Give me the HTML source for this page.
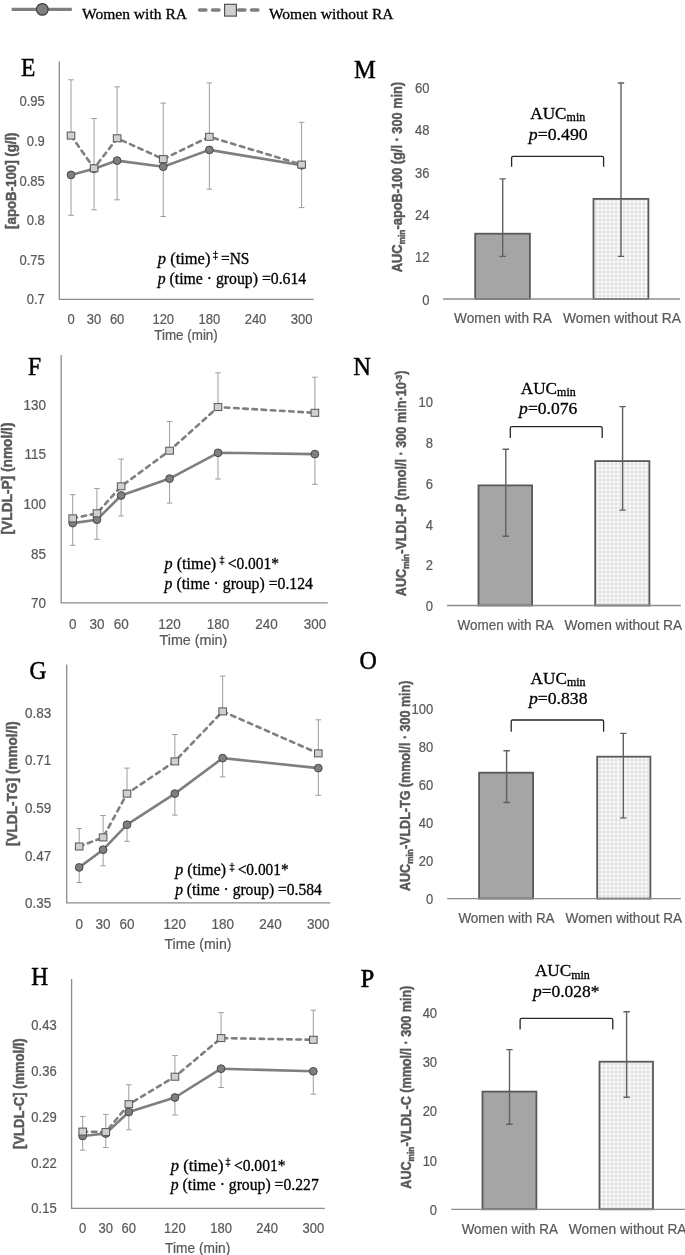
<!DOCTYPE html>
<html><head><meta charset="utf-8"><title>Figure</title>
<style>html,body{margin:0;padding:0;background:#fff;}svg{display:block;filter:blur(0.3px);}</style></head>
<body>
<svg width="685" height="1255" viewBox="0 0 685 1255">
<defs>
<pattern id="dots" width="4" height="4" patternUnits="userSpaceOnUse">
<rect width="4" height="4" fill="#e2e2e2"/>
<rect x="0.6" y="0.6" width="2.8" height="2.8" rx="0.8" fill="#fcfcfc"/>
</pattern>
</defs>
<rect width="685" height="1255" fill="#fff"/>
<line x1="11.7" y1="9.3" x2="71.8" y2="9.3" stroke="#7f7f7f" stroke-width="3.3"/>
<circle cx="42.3" cy="9.4" r="5.8" fill="#7f7f7f" stroke="#404040" stroke-width="1.2"/>
<text x="82" y="18.7" font-family='"Liberation Serif", serif' font-size="15.5" fill="#000" stroke="#000" stroke-width="0.3" textLength="105" lengthAdjust="spacingAndGlyphs">Women with RA</text>
<line x1="199.5" y1="10" x2="259" y2="10" stroke="#7f7f7f" stroke-width="3.3" stroke-dasharray="6.5 6.5" stroke-linecap="round"/>
<rect x="224.6" y="4.3" width="11.8" height="11.8" fill="#d0d0d0" stroke="#555555" stroke-width="1.2"/>
<text x="268.9" y="18.7" font-family='"Liberation Serif", serif' font-size="15.5" fill="#000" stroke="#000" stroke-width="0.3" textLength="124.7" lengthAdjust="spacingAndGlyphs">Women without RA</text>
<text transform="translate(21,76.3) scale(1,1.11)" font-family='"Liberation Serif", serif' font-size="23.5" fill="#000" stroke="#000" stroke-width="0.45">E</text>
<path d="M59.3 61.4V299.3H313.7" fill="none" stroke="#8c8c8c" stroke-width="1.3"/>
<text transform="translate(44.8,304.47) scale(1,1.11)" text-anchor="end" font-family='"Liberation Sans", sans-serif' font-size="13" fill="#595959" stroke="#595959" stroke-width="0.2">0.7</text>
<text transform="translate(44.8,264.87) scale(1,1.11)" text-anchor="end" font-family='"Liberation Sans", sans-serif' font-size="13" fill="#595959" stroke="#595959" stroke-width="0.2">0.75</text>
<text transform="translate(44.8,225.27) scale(1,1.11)" text-anchor="end" font-family='"Liberation Sans", sans-serif' font-size="13" fill="#595959" stroke="#595959" stroke-width="0.2">0.8</text>
<text transform="translate(44.8,185.67) scale(1,1.11)" text-anchor="end" font-family='"Liberation Sans", sans-serif' font-size="13" fill="#595959" stroke="#595959" stroke-width="0.2">0.85</text>
<text transform="translate(44.8,146.07) scale(1,1.11)" text-anchor="end" font-family='"Liberation Sans", sans-serif' font-size="13" fill="#595959" stroke="#595959" stroke-width="0.2">0.9</text>
<text transform="translate(44.8,106.47) scale(1,1.11)" text-anchor="end" font-family='"Liberation Sans", sans-serif' font-size="13" fill="#595959" stroke="#595959" stroke-width="0.2">0.95</text>
<text transform="translate(71,323.97) scale(1,1.11)" text-anchor="middle" font-family='"Liberation Sans", sans-serif' font-size="13" fill="#595959" stroke="#595959" stroke-width="0.2">0</text>
<text transform="translate(94.06,323.97) scale(1,1.11)" text-anchor="middle" font-family='"Liberation Sans", sans-serif' font-size="13" fill="#595959" stroke="#595959" stroke-width="0.2">30</text>
<text transform="translate(117.12,323.97) scale(1,1.11)" text-anchor="middle" font-family='"Liberation Sans", sans-serif' font-size="13" fill="#595959" stroke="#595959" stroke-width="0.2">60</text>
<text transform="translate(163.24,323.97) scale(1,1.11)" text-anchor="middle" font-family='"Liberation Sans", sans-serif' font-size="13" fill="#595959" stroke="#595959" stroke-width="0.2">120</text>
<text transform="translate(209.37,323.97) scale(1,1.11)" text-anchor="middle" font-family='"Liberation Sans", sans-serif' font-size="13" fill="#595959" stroke="#595959" stroke-width="0.2">180</text>
<text transform="translate(255.49,323.97) scale(1,1.11)" text-anchor="middle" font-family='"Liberation Sans", sans-serif' font-size="13" fill="#595959" stroke="#595959" stroke-width="0.2">240</text>
<text transform="translate(301.61,323.97) scale(1,1.11)" text-anchor="middle" font-family='"Liberation Sans", sans-serif' font-size="13" fill="#595959" stroke="#595959" stroke-width="0.2">300</text>
<text transform="translate(186,339.89) scale(1,1.11)" text-anchor="middle" font-family='"Liberation Sans", sans-serif' font-size="13.3" fill="#595959" stroke="#595959" stroke-width="0.2" textLength="63.6" lengthAdjust="spacingAndGlyphs">Time (min)</text>
<text transform="translate(15.8,180.7) rotate(-90) scale(1,1.1)" text-anchor="middle" font-family='"Liberation Sans", sans-serif' font-weight="bold" font-size="13.6" fill="#595959" stroke="#595959" stroke-width="0.45" textLength="96.4" lengthAdjust="spacingAndGlyphs">[apoB-100] (g/l)</text>
<path d="M71 135.6V79.8M68.2 79.8H73.8M71 174.9V215.3M68.2 215.3H73.8" stroke="#9d9d9d" stroke-width="1" fill="none"/>
<path d="M94.06 168.3V118.5M91.26 118.5H96.86M94.06 168.7V209.8M91.26 209.8H96.86" stroke="#9d9d9d" stroke-width="1" fill="none"/>
<path d="M117.12 138.3V86.8M114.32 86.8H119.92M117.12 160.6V199.8M114.32 199.8H119.92" stroke="#9d9d9d" stroke-width="1" fill="none"/>
<path d="M163.24 159.1V103.1M160.44 103.1H166.04M163.24 166.7V216.5M160.44 216.5H166.04" stroke="#9d9d9d" stroke-width="1" fill="none"/>
<path d="M209.37 136.8V82.9M206.57 82.9H212.17M209.37 149.9V189.2M206.57 189.2H212.17" stroke="#9d9d9d" stroke-width="1" fill="none"/>
<path d="M301.61 164.6V122.3M298.81 122.3H304.41M301.61 165.3V207.6M298.81 207.6H304.41" stroke="#9d9d9d" stroke-width="1" fill="none"/>
<polyline points="71,174.9 94.06,168.7 117.12,160.6 163.24,166.7 209.37,149.9 301.61,165.3" fill="none" stroke="#7f7f7f" stroke-width="2.6" stroke-linejoin="round"/>
<polyline points="71,135.6 94.06,168.3 117.12,138.3 163.24,159.1 209.37,136.8 301.61,164.6" fill="none" stroke="#7f7f7f" stroke-width="2.6" stroke-dasharray="4.5 4.7" stroke-linecap="round" stroke-linejoin="round"/>
<circle cx="71" cy="174.9" r="3.9" fill="#7f7f7f" stroke="#404040" stroke-width="0.9"/>
<circle cx="94.06" cy="168.7" r="3.9" fill="#7f7f7f" stroke="#404040" stroke-width="0.9"/>
<circle cx="117.12" cy="160.6" r="3.9" fill="#7f7f7f" stroke="#404040" stroke-width="0.9"/>
<circle cx="163.24" cy="166.7" r="3.9" fill="#7f7f7f" stroke="#404040" stroke-width="0.9"/>
<circle cx="209.37" cy="149.9" r="3.9" fill="#7f7f7f" stroke="#404040" stroke-width="0.9"/>
<circle cx="301.61" cy="165.3" r="3.9" fill="#7f7f7f" stroke="#404040" stroke-width="0.9"/>
<rect x="67.2" y="132.1" width="7.6" height="7" fill="#d0d0d0" stroke="#555555" stroke-width="1"/>
<rect x="90.26" y="164.8" width="7.6" height="7" fill="#d0d0d0" stroke="#555555" stroke-width="1"/>
<rect x="113.32" y="134.8" width="7.6" height="7" fill="#d0d0d0" stroke="#555555" stroke-width="1"/>
<rect x="159.44" y="155.6" width="7.6" height="7" fill="#d0d0d0" stroke="#555555" stroke-width="1"/>
<rect x="205.57" y="133.3" width="7.6" height="7" fill="#d0d0d0" stroke="#555555" stroke-width="1"/>
<rect x="297.81" y="161.1" width="7.6" height="7" fill="#d0d0d0" stroke="#555555" stroke-width="1"/>
<text x="157.8" y="263.8" font-family='"Liberation Serif", serif' fill="#000" stroke="#000" stroke-width="0.3" font-size="16" textLength="52.6" lengthAdjust="spacingAndGlyphs"><tspan font-style="italic">p</tspan> (time)</text>
<text x="213" y="258.3" font-family='"Liberation Serif", serif' fill="#000" stroke="#000" stroke-width="0.3" font-size="10">‡</text>
<text x="221" y="263.8" font-family='"Liberation Serif", serif' fill="#000" stroke="#000" stroke-width="0.3" font-size="16" textLength="28.4" lengthAdjust="spacingAndGlyphs">=NS</text>
<text x="157.8" y="283.8" font-family='"Liberation Serif", serif' fill="#000" stroke="#000" stroke-width="0.3" font-size="16" textLength="148.4" lengthAdjust="spacingAndGlyphs"><tspan font-style="italic">p</tspan> (time · group) =0.614</text>
<text transform="translate(28,374.5) scale(1,1.11)" font-family='"Liberation Serif", serif' font-size="23.5" fill="#000" stroke="#000" stroke-width="0.45">F</text>
<path d="M61.2 354.9V602.9H327.8" fill="none" stroke="#8c8c8c" stroke-width="1.3"/>
<text transform="translate(45.9,608.36) scale(1,1.11)" text-anchor="end" font-family='"Liberation Sans", sans-serif' font-size="13.5" fill="#595959" stroke="#595959" stroke-width="0.2">70</text>
<text transform="translate(45.9,558.66) scale(1,1.11)" text-anchor="end" font-family='"Liberation Sans", sans-serif' font-size="13.5" fill="#595959" stroke="#595959" stroke-width="0.2">85</text>
<text transform="translate(45.9,508.96) scale(1,1.11)" text-anchor="end" font-family='"Liberation Sans", sans-serif' font-size="13.5" fill="#595959" stroke="#595959" stroke-width="0.2">100</text>
<text transform="translate(45.9,459.26) scale(1,1.11)" text-anchor="end" font-family='"Liberation Sans", sans-serif' font-size="13.5" fill="#595959" stroke="#595959" stroke-width="0.2">115</text>
<text transform="translate(45.9,409.56) scale(1,1.11)" text-anchor="end" font-family='"Liberation Sans", sans-serif' font-size="13.5" fill="#595959" stroke="#595959" stroke-width="0.2">130</text>
<text transform="translate(72.7,628.86) scale(1,1.11)" text-anchor="middle" font-family='"Liberation Sans", sans-serif' font-size="13.5" fill="#595959" stroke="#595959" stroke-width="0.2">0</text>
<text transform="translate(96.92,628.86) scale(1,1.11)" text-anchor="middle" font-family='"Liberation Sans", sans-serif' font-size="13.5" fill="#595959" stroke="#595959" stroke-width="0.2">30</text>
<text transform="translate(121.14,628.86) scale(1,1.11)" text-anchor="middle" font-family='"Liberation Sans", sans-serif' font-size="13.5" fill="#595959" stroke="#595959" stroke-width="0.2">60</text>
<text transform="translate(169.58,628.86) scale(1,1.11)" text-anchor="middle" font-family='"Liberation Sans", sans-serif' font-size="13.5" fill="#595959" stroke="#595959" stroke-width="0.2">120</text>
<text transform="translate(218.01,628.86) scale(1,1.11)" text-anchor="middle" font-family='"Liberation Sans", sans-serif' font-size="13.5" fill="#595959" stroke="#595959" stroke-width="0.2">180</text>
<text transform="translate(266.45,628.86) scale(1,1.11)" text-anchor="middle" font-family='"Liberation Sans", sans-serif' font-size="13.5" fill="#595959" stroke="#595959" stroke-width="0.2">240</text>
<text transform="translate(314.89,628.86) scale(1,1.11)" text-anchor="middle" font-family='"Liberation Sans", sans-serif' font-size="13.5" fill="#595959" stroke="#595959" stroke-width="0.2">300</text>
<text transform="translate(193.4,644.89) scale(1,1.11)" text-anchor="middle" font-family='"Liberation Sans", sans-serif' font-size="13.3" fill="#595959" stroke="#595959" stroke-width="0.2" textLength="67.8" lengthAdjust="spacingAndGlyphs">Time (min)</text>
<text transform="translate(11.5,478.5) rotate(-90) scale(1,1.1)" text-anchor="middle" font-family='"Liberation Sans", sans-serif' font-weight="bold" font-size="13.6" fill="#595959" stroke="#595959" stroke-width="0.45" textLength="111.9" lengthAdjust="spacingAndGlyphs">[VLDL-P] (nmol/l)</text>
<path d="M72.7 518.4V494.7M69.9 494.7H75.5M72.7 523.1V545.3M69.9 545.3H75.5" stroke="#9d9d9d" stroke-width="1" fill="none"/>
<path d="M96.92 513.3V488.6M94.12 488.6H99.72M96.92 519.7V539.3M94.12 539.3H99.72" stroke="#9d9d9d" stroke-width="1" fill="none"/>
<path d="M121.14 486.3V459.1M118.34 459.1H123.94M121.14 495.5V516M118.34 516H123.94" stroke="#9d9d9d" stroke-width="1" fill="none"/>
<path d="M169.58 450.7V421.5M166.78 421.5H172.38M169.58 478.6V503.1M166.78 503.1H172.38" stroke="#9d9d9d" stroke-width="1" fill="none"/>
<path d="M218.01 407.1V372.8M215.21 372.8H220.81M218.01 452.8V479M215.21 479H220.81" stroke="#9d9d9d" stroke-width="1" fill="none"/>
<path d="M314.89 412.8V377.2M312.09 377.2H317.69M314.89 454.1V484.3M312.09 484.3H317.69" stroke="#9d9d9d" stroke-width="1" fill="none"/>
<polyline points="72.7,523.1 96.92,519.7 121.14,495.5 169.58,478.6 218.01,452.8 314.89,454.1" fill="none" stroke="#7f7f7f" stroke-width="2.6" stroke-linejoin="round"/>
<polyline points="72.7,518.4 96.92,513.3 121.14,486.3 169.58,450.7 218.01,407.1 314.89,412.8" fill="none" stroke="#7f7f7f" stroke-width="2.6" stroke-dasharray="4.5 4.7" stroke-linecap="round" stroke-linejoin="round"/>
<circle cx="72.7" cy="523.1" r="3.9" fill="#7f7f7f" stroke="#404040" stroke-width="0.9"/>
<circle cx="96.92" cy="519.7" r="3.9" fill="#7f7f7f" stroke="#404040" stroke-width="0.9"/>
<circle cx="121.14" cy="495.5" r="3.9" fill="#7f7f7f" stroke="#404040" stroke-width="0.9"/>
<circle cx="169.58" cy="478.6" r="3.9" fill="#7f7f7f" stroke="#404040" stroke-width="0.9"/>
<circle cx="218.01" cy="452.8" r="3.9" fill="#7f7f7f" stroke="#404040" stroke-width="0.9"/>
<circle cx="314.89" cy="454.1" r="3.9" fill="#7f7f7f" stroke="#404040" stroke-width="0.9"/>
<rect x="68.9" y="514.9" width="7.6" height="7" fill="#d0d0d0" stroke="#555555" stroke-width="1"/>
<rect x="93.12" y="509.8" width="7.6" height="7" fill="#d0d0d0" stroke="#555555" stroke-width="1"/>
<rect x="117.34" y="482.8" width="7.6" height="7" fill="#d0d0d0" stroke="#555555" stroke-width="1"/>
<rect x="165.78" y="447.2" width="7.6" height="7" fill="#d0d0d0" stroke="#555555" stroke-width="1"/>
<rect x="214.21" y="403.6" width="7.6" height="7" fill="#d0d0d0" stroke="#555555" stroke-width="1"/>
<rect x="311.09" y="409.3" width="7.6" height="7" fill="#d0d0d0" stroke="#555555" stroke-width="1"/>
<text x="164.6" y="568.8" font-family='"Liberation Serif", serif' fill="#000" stroke="#000" stroke-width="0.3" font-size="16" textLength="51.6" lengthAdjust="spacingAndGlyphs"><tspan font-style="italic">p</tspan> (time)</text>
<text x="219.4" y="563.3" font-family='"Liberation Serif", serif' fill="#000" stroke="#000" stroke-width="0.3" font-size="10">‡</text>
<text x="227.7" y="568.8" font-family='"Liberation Serif", serif' fill="#000" stroke="#000" stroke-width="0.3" font-size="16" textLength="51.3" lengthAdjust="spacingAndGlyphs">&lt;0.001*</text>
<text x="164.6" y="588.6" font-family='"Liberation Serif", serif' fill="#000" stroke="#000" stroke-width="0.3" font-size="16" textLength="148.4" lengthAdjust="spacingAndGlyphs"><tspan font-style="italic">p</tspan> (time · group) =0.124</text>
<text transform="translate(29.4,678.7) scale(1,1.11)" font-family='"Liberation Serif", serif' font-size="23.5" fill="#000" stroke="#000" stroke-width="0.45">G</text>
<path d="M66.7 664.6V902.8H330.3" fill="none" stroke="#8c8c8c" stroke-width="1.3"/>
<text transform="translate(51.3,908.16) scale(1,1.11)" text-anchor="end" font-family='"Liberation Sans", sans-serif' font-size="13.5" fill="#595959" stroke="#595959" stroke-width="0.2">0.35</text>
<text transform="translate(51.3,860.56) scale(1,1.11)" text-anchor="end" font-family='"Liberation Sans", sans-serif' font-size="13.5" fill="#595959" stroke="#595959" stroke-width="0.2">0.47</text>
<text transform="translate(51.3,812.96) scale(1,1.11)" text-anchor="end" font-family='"Liberation Sans", sans-serif' font-size="13.5" fill="#595959" stroke="#595959" stroke-width="0.2">0.59</text>
<text transform="translate(51.3,765.36) scale(1,1.11)" text-anchor="end" font-family='"Liberation Sans", sans-serif' font-size="13.5" fill="#595959" stroke="#595959" stroke-width="0.2">0.71</text>
<text transform="translate(51.3,717.76) scale(1,1.11)" text-anchor="end" font-family='"Liberation Sans", sans-serif' font-size="13.5" fill="#595959" stroke="#595959" stroke-width="0.2">0.83</text>
<text transform="translate(79.2,929.36) scale(1,1.11)" text-anchor="middle" font-family='"Liberation Sans", sans-serif' font-size="13.5" fill="#595959" stroke="#595959" stroke-width="0.2">0</text>
<text transform="translate(103.11,929.36) scale(1,1.11)" text-anchor="middle" font-family='"Liberation Sans", sans-serif' font-size="13.5" fill="#595959" stroke="#595959" stroke-width="0.2">30</text>
<text transform="translate(127.02,929.36) scale(1,1.11)" text-anchor="middle" font-family='"Liberation Sans", sans-serif' font-size="13.5" fill="#595959" stroke="#595959" stroke-width="0.2">60</text>
<text transform="translate(174.84,929.36) scale(1,1.11)" text-anchor="middle" font-family='"Liberation Sans", sans-serif' font-size="13.5" fill="#595959" stroke="#595959" stroke-width="0.2">120</text>
<text transform="translate(222.66,929.36) scale(1,1.11)" text-anchor="middle" font-family='"Liberation Sans", sans-serif' font-size="13.5" fill="#595959" stroke="#595959" stroke-width="0.2">180</text>
<text transform="translate(270.48,929.36) scale(1,1.11)" text-anchor="middle" font-family='"Liberation Sans", sans-serif' font-size="13.5" fill="#595959" stroke="#595959" stroke-width="0.2">240</text>
<text transform="translate(318.3,929.36) scale(1,1.11)" text-anchor="middle" font-family='"Liberation Sans", sans-serif' font-size="13.5" fill="#595959" stroke="#595959" stroke-width="0.2">300</text>
<text transform="translate(198,948.79) scale(1,1.11)" text-anchor="middle" font-family='"Liberation Sans", sans-serif' font-size="13.3" fill="#595959" stroke="#595959" stroke-width="0.2" textLength="67.1" lengthAdjust="spacingAndGlyphs">Time (min)</text>
<text transform="translate(17,783.7) rotate(-90) scale(1,1.1)" text-anchor="middle" font-family='"Liberation Sans", sans-serif' font-weight="bold" font-size="13.6" fill="#595959" stroke="#595959" stroke-width="0.45" textLength="124.8" lengthAdjust="spacingAndGlyphs">[VLDL-TG] (mmol/l)</text>
<path d="M79.2 846.5V828.5M76.4 828.5H82M79.2 867.4V882.5M76.4 882.5H82" stroke="#9d9d9d" stroke-width="1" fill="none"/>
<path d="M103.11 837.4V815.5M100.31 815.5H105.91M103.11 849.7V865.8M100.31 865.8H105.91" stroke="#9d9d9d" stroke-width="1" fill="none"/>
<path d="M127.02 793.6V768.1M124.22 768.1H129.82M127.02 824.7V841.3M124.22 841.3H129.82" stroke="#9d9d9d" stroke-width="1" fill="none"/>
<path d="M174.84 761.4V734.5M172.04 734.5H177.64M174.84 793.6V815.1M172.04 815.1H177.64" stroke="#9d9d9d" stroke-width="1" fill="none"/>
<path d="M222.66 711.4V676.1M219.86 676.1H225.46M222.66 758.1V776.9M219.86 776.9H225.46" stroke="#9d9d9d" stroke-width="1" fill="none"/>
<path d="M318.3 753.4V719.8M315.5 719.8H321.1M318.3 768.1V795.3M315.5 795.3H321.1" stroke="#9d9d9d" stroke-width="1" fill="none"/>
<polyline points="79.2,867.4 103.11,849.7 127.02,824.7 174.84,793.6 222.66,758.1 318.3,768.1" fill="none" stroke="#7f7f7f" stroke-width="2.6" stroke-linejoin="round"/>
<polyline points="79.2,846.5 103.11,837.4 127.02,793.6 174.84,761.4 222.66,711.4 318.3,753.4" fill="none" stroke="#7f7f7f" stroke-width="2.6" stroke-dasharray="4.5 4.7" stroke-linecap="round" stroke-linejoin="round"/>
<circle cx="79.2" cy="867.4" r="3.9" fill="#7f7f7f" stroke="#404040" stroke-width="0.9"/>
<circle cx="103.11" cy="849.7" r="3.9" fill="#7f7f7f" stroke="#404040" stroke-width="0.9"/>
<circle cx="127.02" cy="824.7" r="3.9" fill="#7f7f7f" stroke="#404040" stroke-width="0.9"/>
<circle cx="174.84" cy="793.6" r="3.9" fill="#7f7f7f" stroke="#404040" stroke-width="0.9"/>
<circle cx="222.66" cy="758.1" r="3.9" fill="#7f7f7f" stroke="#404040" stroke-width="0.9"/>
<circle cx="318.3" cy="768.1" r="3.9" fill="#7f7f7f" stroke="#404040" stroke-width="0.9"/>
<rect x="75.4" y="843" width="7.6" height="7" fill="#d0d0d0" stroke="#555555" stroke-width="1"/>
<rect x="99.31" y="833.9" width="7.6" height="7" fill="#d0d0d0" stroke="#555555" stroke-width="1"/>
<rect x="123.22" y="790.1" width="7.6" height="7" fill="#d0d0d0" stroke="#555555" stroke-width="1"/>
<rect x="171.04" y="757.9" width="7.6" height="7" fill="#d0d0d0" stroke="#555555" stroke-width="1"/>
<rect x="218.86" y="707.9" width="7.6" height="7" fill="#d0d0d0" stroke="#555555" stroke-width="1"/>
<rect x="314.5" y="749.9" width="7.6" height="7" fill="#d0d0d0" stroke="#555555" stroke-width="1"/>
<text x="175.2" y="875.2" font-family='"Liberation Serif", serif' fill="#000" stroke="#000" stroke-width="0.3" font-size="16" textLength="51" lengthAdjust="spacingAndGlyphs"><tspan font-style="italic">p</tspan> (time)</text>
<text x="229.4" y="869.7" font-family='"Liberation Serif", serif' fill="#000" stroke="#000" stroke-width="0.3" font-size="10">‡</text>
<text x="237.7" y="875.2" font-family='"Liberation Serif", serif' fill="#000" stroke="#000" stroke-width="0.3" font-size="16" textLength="51" lengthAdjust="spacingAndGlyphs">&lt;0.001*</text>
<text x="175.2" y="895" font-family='"Liberation Serif", serif' fill="#000" stroke="#000" stroke-width="0.3" font-size="16" textLength="146.6" lengthAdjust="spacingAndGlyphs"><tspan font-style="italic">p</tspan> (time · group) =0.584</text>
<text transform="translate(31.2,985.4) scale(1,1.11)" font-family='"Liberation Serif", serif' font-size="23.5" fill="#000" stroke="#000" stroke-width="0.45">H</text>
<path d="M71.6 978.9V1208.3H324.9" fill="none" stroke="#8c8c8c" stroke-width="1.3"/>
<text transform="translate(56.6,1213.47) scale(1,1.11)" text-anchor="end" font-family='"Liberation Sans", sans-serif' font-size="13" fill="#595959" stroke="#595959" stroke-width="0.2">0.15</text>
<text transform="translate(56.6,1167.57) scale(1,1.11)" text-anchor="end" font-family='"Liberation Sans", sans-serif' font-size="13" fill="#595959" stroke="#595959" stroke-width="0.2">0.22</text>
<text transform="translate(56.6,1121.67) scale(1,1.11)" text-anchor="end" font-family='"Liberation Sans", sans-serif' font-size="13" fill="#595959" stroke="#595959" stroke-width="0.2">0.29</text>
<text transform="translate(56.6,1075.77) scale(1,1.11)" text-anchor="end" font-family='"Liberation Sans", sans-serif' font-size="13" fill="#595959" stroke="#595959" stroke-width="0.2">0.36</text>
<text transform="translate(56.6,1029.87) scale(1,1.11)" text-anchor="end" font-family='"Liberation Sans", sans-serif' font-size="13" fill="#595959" stroke="#595959" stroke-width="0.2">0.43</text>
<text transform="translate(82.7,1232.97) scale(1,1.11)" text-anchor="middle" font-family='"Liberation Sans", sans-serif' font-size="13" fill="#595959" stroke="#595959" stroke-width="0.2">0</text>
<text transform="translate(105.76,1232.97) scale(1,1.11)" text-anchor="middle" font-family='"Liberation Sans", sans-serif' font-size="13" fill="#595959" stroke="#595959" stroke-width="0.2">30</text>
<text transform="translate(128.82,1232.97) scale(1,1.11)" text-anchor="middle" font-family='"Liberation Sans", sans-serif' font-size="13" fill="#595959" stroke="#595959" stroke-width="0.2">60</text>
<text transform="translate(174.94,1232.97) scale(1,1.11)" text-anchor="middle" font-family='"Liberation Sans", sans-serif' font-size="13" fill="#595959" stroke="#595959" stroke-width="0.2">120</text>
<text transform="translate(221.07,1232.97) scale(1,1.11)" text-anchor="middle" font-family='"Liberation Sans", sans-serif' font-size="13" fill="#595959" stroke="#595959" stroke-width="0.2">180</text>
<text transform="translate(267.19,1232.97) scale(1,1.11)" text-anchor="middle" font-family='"Liberation Sans", sans-serif' font-size="13" fill="#595959" stroke="#595959" stroke-width="0.2">240</text>
<text transform="translate(313.31,1232.97) scale(1,1.11)" text-anchor="middle" font-family='"Liberation Sans", sans-serif' font-size="13" fill="#595959" stroke="#595959" stroke-width="0.2">300</text>
<text transform="translate(197.7,1252.59) scale(1,1.11)" text-anchor="middle" font-family='"Liberation Sans", sans-serif' font-size="13.3" fill="#595959" stroke="#595959" stroke-width="0.2" textLength="65.2" lengthAdjust="spacingAndGlyphs">Time (min)</text>
<text transform="translate(24.1,1093.6) rotate(-90) scale(1,1.1)" text-anchor="middle" font-family='"Liberation Sans", sans-serif' font-weight="bold" font-size="13.6" fill="#595959" stroke="#595959" stroke-width="0.45" textLength="110.6" lengthAdjust="spacingAndGlyphs">[VLDL-C] (mmol/l)</text>
<path d="M82.7 1131.6V1116.4M79.9 1116.4H85.5M82.7 1136V1150.2M79.9 1150.2H85.5" stroke="#9d9d9d" stroke-width="1" fill="none"/>
<path d="M105.76 1132.1V1114.4M102.96 1114.4H108.56M105.76 1133.5V1147.5M102.96 1147.5H108.56" stroke="#9d9d9d" stroke-width="1" fill="none"/>
<path d="M128.82 1104.2V1084.8M126.02 1084.8H131.62M128.82 1112V1129.8M126.02 1129.8H131.62" stroke="#9d9d9d" stroke-width="1" fill="none"/>
<path d="M174.94 1076.7V1055.6M172.14 1055.6H177.74M174.94 1097.5V1115M172.14 1115H177.74" stroke="#9d9d9d" stroke-width="1" fill="none"/>
<path d="M221.07 1038.1V1012.6M218.27 1012.6H223.87M221.07 1068.7V1087.5M218.27 1087.5H223.87" stroke="#9d9d9d" stroke-width="1" fill="none"/>
<path d="M313.31 1039.8V1010.2M310.51 1010.2H316.11M313.31 1071.3V1094.2M310.51 1094.2H316.11" stroke="#9d9d9d" stroke-width="1" fill="none"/>
<polyline points="82.7,1136 105.76,1133.5 128.82,1112 174.94,1097.5 221.07,1068.7 313.31,1071.3" fill="none" stroke="#7f7f7f" stroke-width="2.6" stroke-linejoin="round"/>
<polyline points="82.7,1131.6 105.76,1132.1 128.82,1104.2 174.94,1076.7 221.07,1038.1 313.31,1039.8" fill="none" stroke="#7f7f7f" stroke-width="2.6" stroke-dasharray="4.5 4.7" stroke-linecap="round" stroke-linejoin="round"/>
<circle cx="82.7" cy="1136" r="3.9" fill="#7f7f7f" stroke="#404040" stroke-width="0.9"/>
<circle cx="105.76" cy="1133.5" r="3.9" fill="#7f7f7f" stroke="#404040" stroke-width="0.9"/>
<circle cx="128.82" cy="1112" r="3.9" fill="#7f7f7f" stroke="#404040" stroke-width="0.9"/>
<circle cx="174.94" cy="1097.5" r="3.9" fill="#7f7f7f" stroke="#404040" stroke-width="0.9"/>
<circle cx="221.07" cy="1068.7" r="3.9" fill="#7f7f7f" stroke="#404040" stroke-width="0.9"/>
<circle cx="313.31" cy="1071.3" r="3.9" fill="#7f7f7f" stroke="#404040" stroke-width="0.9"/>
<rect x="78.9" y="1128.1" width="7.6" height="7" fill="#d0d0d0" stroke="#555555" stroke-width="1"/>
<rect x="101.96" y="1128.6" width="7.6" height="7" fill="#d0d0d0" stroke="#555555" stroke-width="1"/>
<rect x="125.02" y="1100.7" width="7.6" height="7" fill="#d0d0d0" stroke="#555555" stroke-width="1"/>
<rect x="171.14" y="1073.2" width="7.6" height="7" fill="#d0d0d0" stroke="#555555" stroke-width="1"/>
<rect x="217.27" y="1034.6" width="7.6" height="7" fill="#d0d0d0" stroke="#555555" stroke-width="1"/>
<rect x="309.51" y="1036.3" width="7.6" height="7" fill="#d0d0d0" stroke="#555555" stroke-width="1"/>
<text x="170.8" y="1170.8" font-family='"Liberation Serif", serif' fill="#000" stroke="#000" stroke-width="0.3" font-size="16" textLength="52.6" lengthAdjust="spacingAndGlyphs"><tspan font-style="italic">p</tspan> (time)</text>
<text x="225.5" y="1165.3" font-family='"Liberation Serif", serif' fill="#000" stroke="#000" stroke-width="0.3" font-size="10">‡</text>
<text x="233.9" y="1170.8" font-family='"Liberation Serif", serif' fill="#000" stroke="#000" stroke-width="0.3" font-size="16" textLength="51.6" lengthAdjust="spacingAndGlyphs">&lt;0.001*</text>
<text x="170.8" y="1190.2" font-family='"Liberation Serif", serif' fill="#000" stroke="#000" stroke-width="0.3" font-size="16" textLength="148" lengthAdjust="spacingAndGlyphs"><tspan font-style="italic">p</tspan> (time · group) =0.227</text>
<text transform="translate(353.9,77.8) scale(1,1)" font-family='"Liberation Serif", serif' font-size="24.5" fill="#000" stroke="#000" stroke-width="0.45">M</text>
<text transform="translate(429.4,304.67) scale(1,1.11)" text-anchor="end" font-family='"Liberation Sans", sans-serif' font-size="13" fill="#595959" stroke="#595959" stroke-width="0.2">0</text>
<text transform="translate(429.4,262.31) scale(1,1.11)" text-anchor="end" font-family='"Liberation Sans", sans-serif' font-size="13" fill="#595959" stroke="#595959" stroke-width="0.2">12</text>
<text transform="translate(429.4,219.95) scale(1,1.11)" text-anchor="end" font-family='"Liberation Sans", sans-serif' font-size="13" fill="#595959" stroke="#595959" stroke-width="0.2">24</text>
<text transform="translate(429.4,177.59) scale(1,1.11)" text-anchor="end" font-family='"Liberation Sans", sans-serif' font-size="13" fill="#595959" stroke="#595959" stroke-width="0.2">36</text>
<text transform="translate(429.4,135.23) scale(1,1.11)" text-anchor="end" font-family='"Liberation Sans", sans-serif' font-size="13" fill="#595959" stroke="#595959" stroke-width="0.2">48</text>
<text transform="translate(429.4,92.87) scale(1,1.11)" text-anchor="end" font-family='"Liberation Sans", sans-serif' font-size="13" fill="#595959" stroke="#595959" stroke-width="0.2">60</text>
<rect x="475.2" y="233.7" width="54.7" height="65.3" fill="#a5a5a5" stroke="#595959" stroke-width="1.8"/>
<rect x="593.5" y="198.9" width="54.9" height="100.1" fill="url(#dots)" stroke="#595959" stroke-width="1.8"/>
<line x1="443" y1="299" x2="680" y2="299" stroke="#8c8c8c" stroke-width="1.3"/>
<path d="M502.7 178.9V256.4M499.5 178.9H505.9M499.5 256.4H505.9" stroke="#606060" stroke-width="1.4" fill="none"/>
<path d="M621 83V256.4M617.8 83H624.2M617.8 256.4H624.2" stroke="#606060" stroke-width="1.4" fill="none"/>
<path d="M511.6 166.8V157.8Q511.6 156.3 513.1 156.3H602.1Q603.6 156.3 603.6 157.8V166.8" stroke="#262626" stroke-width="1.3" fill="none"/>
<text x="530.3" y="118.7" font-family='"Liberation Serif", serif' fill="#000" stroke="#000" stroke-width="0.3" font-size="17.2">AUC<tspan font-size="12" dy="2.2">min</tspan></text>
<text x="528.8" y="140.3" font-family='"Liberation Serif", serif' fill="#000" stroke="#000" stroke-width="0.3" font-size="17.5" textLength="58.9" lengthAdjust="spacingAndGlyphs"><tspan font-style="italic">p</tspan>=0.490</text>
<text transform="translate(502.9,323.15) scale(1,1.11)" text-anchor="middle" font-family='"Liberation Sans", sans-serif' font-size="13.2" fill="#595959" stroke="#595959" stroke-width="0.2" textLength="97.7" lengthAdjust="spacingAndGlyphs">Women with RA</text>
<text transform="translate(622,323.15) scale(1,1.11)" text-anchor="middle" font-family='"Liberation Sans", sans-serif' font-size="13.2" fill="#595959" stroke="#595959" stroke-width="0.2" textLength="117.9" lengthAdjust="spacingAndGlyphs">Women without RA</text>
<text transform="translate(401.8,177.05) rotate(-90) scale(1,1.1)" text-anchor="middle" font-family='"Liberation Sans", sans-serif' font-weight="bold" font-size="13.6" fill="#595959" stroke="#595959" stroke-width="0.45" textLength="190.3" lengthAdjust="spacingAndGlyphs">AUC<tspan font-size="9" dy="3">min</tspan><tspan dy="-3">-apoB-100 (g/l · 300 min)</tspan></text>
<text transform="translate(353.2,374.8) scale(1,1)" font-family='"Liberation Serif", serif' font-size="24.5" fill="#000" stroke="#000" stroke-width="0.45">N</text>
<text transform="translate(433,610.97) scale(1,1.11)" text-anchor="end" font-family='"Liberation Sans", sans-serif' font-size="13" fill="#595959" stroke="#595959" stroke-width="0.2">0</text>
<text transform="translate(433,570.27) scale(1,1.11)" text-anchor="end" font-family='"Liberation Sans", sans-serif' font-size="13" fill="#595959" stroke="#595959" stroke-width="0.2">2</text>
<text transform="translate(433,529.57) scale(1,1.11)" text-anchor="end" font-family='"Liberation Sans", sans-serif' font-size="13" fill="#595959" stroke="#595959" stroke-width="0.2">4</text>
<text transform="translate(433,488.87) scale(1,1.11)" text-anchor="end" font-family='"Liberation Sans", sans-serif' font-size="13" fill="#595959" stroke="#595959" stroke-width="0.2">6</text>
<text transform="translate(433,448.17) scale(1,1.11)" text-anchor="end" font-family='"Liberation Sans", sans-serif' font-size="13" fill="#595959" stroke="#595959" stroke-width="0.2">8</text>
<text transform="translate(433,407.47) scale(1,1.11)" text-anchor="end" font-family='"Liberation Sans", sans-serif' font-size="13" fill="#595959" stroke="#595959" stroke-width="0.2">10</text>
<rect x="478.5" y="485.4" width="53.6" height="120.1" fill="#a5a5a5" stroke="#595959" stroke-width="1.8"/>
<rect x="595.2" y="461.1" width="54.2" height="144.4" fill="url(#dots)" stroke="#595959" stroke-width="1.8"/>
<line x1="447.1" y1="605.5" x2="680.8" y2="605.5" stroke="#8c8c8c" stroke-width="1.3"/>
<path d="M505.8 449.2V536.3M502.6 449.2H509M502.6 536.3H509" stroke="#606060" stroke-width="1.4" fill="none"/>
<path d="M622.6 406.6V510.1M619.4 406.6H625.8M619.4 510.1H625.8" stroke="#606060" stroke-width="1.4" fill="none"/>
<path d="M510.3 437.9V428.2Q510.3 426.7 511.8 426.7H600.7Q602.2 426.7 602.2 428.2V437.9" stroke="#262626" stroke-width="1.3" fill="none"/>
<text x="520.8" y="393.8" font-family='"Liberation Serif", serif' fill="#000" stroke="#000" stroke-width="0.3" font-size="17.2">AUC<tspan font-size="12" dy="2.2">min</tspan></text>
<text x="519.1" y="414.2" font-family='"Liberation Serif", serif' fill="#000" stroke="#000" stroke-width="0.3" font-size="17.5" textLength="58.2" lengthAdjust="spacingAndGlyphs"><tspan font-style="italic">p</tspan>=0.076</text>
<text transform="translate(505.7,629.95) scale(1,1.11)" text-anchor="middle" font-family='"Liberation Sans", sans-serif' font-size="13.2" fill="#595959" stroke="#595959" stroke-width="0.2" textLength="96.3" lengthAdjust="spacingAndGlyphs">Women with RA</text>
<text transform="translate(623.4,629.95) scale(1,1.11)" text-anchor="middle" font-family='"Liberation Sans", sans-serif' font-size="13.2" fill="#595959" stroke="#595959" stroke-width="0.2" textLength="117.7" lengthAdjust="spacingAndGlyphs">Women without RA</text>
<text transform="translate(406,483.4) rotate(-90) scale(1,1.1)" text-anchor="middle" font-family='"Liberation Sans", sans-serif' font-weight="bold" font-size="13.6" fill="#595959" stroke="#595959" stroke-width="0.45" textLength="225.6" lengthAdjust="spacingAndGlyphs">AUC<tspan font-size="9" dy="3">min</tspan><tspan dy="-3">-VLDL-P (nmol/l · 300 min·10<tspan font-size="9" dy="-4">-3</tspan><tspan dy="4">)</tspan></tspan></text>
<text transform="translate(359.4,668.7) scale(1,1.07)" font-family='"Liberation Serif", serif' font-size="24" fill="#000" stroke="#000" stroke-width="0.45">O</text>
<text transform="translate(433.2,903.97) scale(1,1.11)" text-anchor="end" font-family='"Liberation Sans", sans-serif' font-size="13" fill="#595959" stroke="#595959" stroke-width="0.2">0</text>
<text transform="translate(433.2,866.07) scale(1,1.11)" text-anchor="end" font-family='"Liberation Sans", sans-serif' font-size="13" fill="#595959" stroke="#595959" stroke-width="0.2">20</text>
<text transform="translate(433.2,828.17) scale(1,1.11)" text-anchor="end" font-family='"Liberation Sans", sans-serif' font-size="13" fill="#595959" stroke="#595959" stroke-width="0.2">40</text>
<text transform="translate(433.2,790.27) scale(1,1.11)" text-anchor="end" font-family='"Liberation Sans", sans-serif' font-size="13" fill="#595959" stroke="#595959" stroke-width="0.2">60</text>
<text transform="translate(433.2,752.37) scale(1,1.11)" text-anchor="end" font-family='"Liberation Sans", sans-serif' font-size="13" fill="#595959" stroke="#595959" stroke-width="0.2">80</text>
<text transform="translate(433.2,714.47) scale(1,1.11)" text-anchor="end" font-family='"Liberation Sans", sans-serif' font-size="13" fill="#595959" stroke="#595959" stroke-width="0.2">100</text>
<rect x="479.1" y="772.7" width="54" height="125.9" fill="#a5a5a5" stroke="#595959" stroke-width="1.8"/>
<rect x="597.2" y="756.7" width="53.2" height="141.9" fill="url(#dots)" stroke="#595959" stroke-width="1.8"/>
<line x1="447.1" y1="898.6" x2="680.8" y2="898.6" stroke="#8c8c8c" stroke-width="1.3"/>
<path d="M506.6 750.7V802.5M503.4 750.7H509.8M503.4 802.5H509.8" stroke="#606060" stroke-width="1.4" fill="none"/>
<path d="M623.3 733.4V817.9M620.1 733.4H626.5M620.1 817.9H626.5" stroke="#606060" stroke-width="1.4" fill="none"/>
<path d="M511.2 731.8V721.5Q511.2 720 512.7 720H602.1Q603.6 720 603.6 721.5V731.8" stroke="#262626" stroke-width="1.3" fill="none"/>
<text x="530.6" y="683.5" font-family='"Liberation Serif", serif' fill="#000" stroke="#000" stroke-width="0.3" font-size="17.2">AUC<tspan font-size="12" dy="2.2">min</tspan></text>
<text x="529" y="704.2" font-family='"Liberation Serif", serif' fill="#000" stroke="#000" stroke-width="0.3" font-size="17.5" textLength="58.5" lengthAdjust="spacingAndGlyphs"><tspan font-style="italic">p</tspan>=0.838</text>
<text transform="translate(506.5,922.75) scale(1,1.11)" text-anchor="middle" font-family='"Liberation Sans", sans-serif' font-size="13.2" fill="#595959" stroke="#595959" stroke-width="0.2" textLength="96.2" lengthAdjust="spacingAndGlyphs">Women with RA</text>
<text transform="translate(623.9,922.75) scale(1,1.11)" text-anchor="middle" font-family='"Liberation Sans", sans-serif' font-size="13.2" fill="#595959" stroke="#595959" stroke-width="0.2" textLength="116.6" lengthAdjust="spacingAndGlyphs">Women without RA</text>
<text transform="translate(409.8,785.8) rotate(-90) scale(1,1.1)" text-anchor="middle" font-family='"Liberation Sans", sans-serif' font-weight="bold" font-size="13.6" fill="#595959" stroke="#595959" stroke-width="0.45" textLength="210.4" lengthAdjust="spacingAndGlyphs">AUC<tspan font-size="9" dy="3">min</tspan><tspan dy="-3">-VLDL-TG (mmol/l · 300 min)</tspan></text>
<text transform="translate(360.7,986.9) scale(1,1.07)" font-family='"Liberation Serif", serif' font-size="24.2" fill="#000" stroke="#000" stroke-width="0.7">P</text>
<text transform="translate(437.1,1214.97) scale(1,1.11)" text-anchor="end" font-family='"Liberation Sans", sans-serif' font-size="13" fill="#595959" stroke="#595959" stroke-width="0.2">0</text>
<text transform="translate(437.1,1165.67) scale(1,1.11)" text-anchor="end" font-family='"Liberation Sans", sans-serif' font-size="13" fill="#595959" stroke="#595959" stroke-width="0.2">10</text>
<text transform="translate(437.1,1116.37) scale(1,1.11)" text-anchor="end" font-family='"Liberation Sans", sans-serif' font-size="13" fill="#595959" stroke="#595959" stroke-width="0.2">20</text>
<text transform="translate(437.1,1067.07) scale(1,1.11)" text-anchor="end" font-family='"Liberation Sans", sans-serif' font-size="13" fill="#595959" stroke="#595959" stroke-width="0.2">30</text>
<text transform="translate(437.1,1017.77) scale(1,1.11)" text-anchor="end" font-family='"Liberation Sans", sans-serif' font-size="13" fill="#595959" stroke="#595959" stroke-width="0.2">40</text>
<rect x="482.5" y="1091.6" width="53.9" height="117.7" fill="#a5a5a5" stroke="#595959" stroke-width="1.8"/>
<rect x="599.5" y="1061.7" width="53.5" height="147.6" fill="url(#dots)" stroke="#595959" stroke-width="1.8"/>
<line x1="451.3" y1="1209.3" x2="685" y2="1209.3" stroke="#8c8c8c" stroke-width="1.3"/>
<path d="M509.5 1049.6V1124.2M506.3 1049.6H512.7M506.3 1124.2H512.7" stroke="#606060" stroke-width="1.4" fill="none"/>
<path d="M626.6 1011.8V1097.2M623.4 1011.8H629.8M623.4 1097.2H629.8" stroke="#606060" stroke-width="1.4" fill="none"/>
<path d="M520.1 1029.6V1019.9Q520.1 1018.4 521.6 1018.4H611.3Q612.8 1018.4 612.8 1019.9V1029.6" stroke="#262626" stroke-width="1.3" fill="none"/>
<text x="534.9" y="976.4" font-family='"Liberation Serif", serif' fill="#000" stroke="#000" stroke-width="0.3" font-size="17.2">AUC<tspan font-size="12" dy="2.2">min</tspan></text>
<text x="532.9" y="996.7" font-family='"Liberation Serif", serif' fill="#000" stroke="#000" stroke-width="0.3" font-size="17.5" textLength="66.7" lengthAdjust="spacingAndGlyphs"><tspan font-style="italic">p</tspan>=0.028*</text>
<text transform="translate(509.8,1233.65) scale(1,1.11)" text-anchor="middle" font-family='"Liberation Sans", sans-serif' font-size="13.2" fill="#595959" stroke="#595959" stroke-width="0.2" textLength="96.3" lengthAdjust="spacingAndGlyphs">Women with RA</text>
<text transform="translate(627.7,1233.65) scale(1,1.11)" text-anchor="middle" font-family='"Liberation Sans", sans-serif' font-size="13.2" fill="#595959" stroke="#595959" stroke-width="0.2" textLength="117.7" lengthAdjust="spacingAndGlyphs">Women without RA</text>
<text transform="translate(411,1087.2) rotate(-90) scale(1,1.1)" text-anchor="middle" font-family='"Liberation Sans", sans-serif' font-weight="bold" font-size="13.6" fill="#595959" stroke="#595959" stroke-width="0.45" textLength="203" lengthAdjust="spacingAndGlyphs">AUC<tspan font-size="9" dy="3">min</tspan><tspan dy="-3">-VLDL-C (mmol/l · 300 min)</tspan></text>
</svg>
</body></html>
